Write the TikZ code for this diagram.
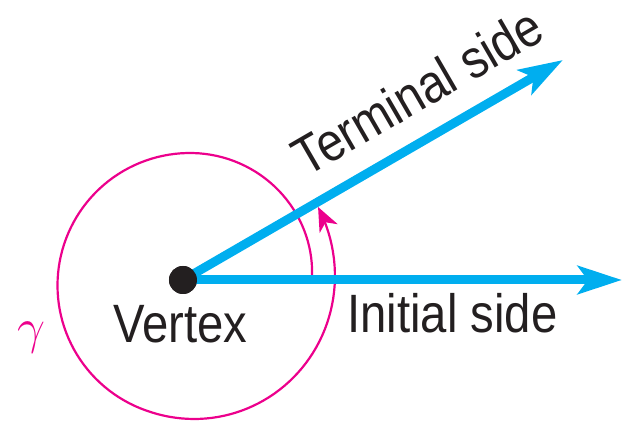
\documentclass[tikz,border=0pt]{standalone}
\usepackage{fontspec}
\setmainfont[FakeStretch=0.875]{Liberation Sans}
\usetikzlibrary{arrows.meta}
\definecolor{agInk}{HTML}{231F20}
\definecolor{agCyan}{HTML}{00AEEF}
\definecolor{agMagenta}{HTML}{EC008C}
\tikzset{
  side/.style={-{Stealth[length=22pt, width=14pt, inset=5pt]}, line width=4.5pt, draw=agCyan},
  turn/.style={-{Stealth[length=12pt, width=10pt, inset=3.5pt]}, line width=1.1pt, draw=agMagenta},
  vert/.style={circle, fill=agInk, inner sep=0pt, minimum size=14pt},
  lbl/.style={font=\fontsize{27}{32}\selectfont, text=agInk, inner sep=0pt},
}
\begin{document}
\begin{tikzpicture}[x=0.5pt, y=0.5pt]
  \useasboundingbox (-183,-141) rectangle (440,280);
  \coordinate (init) at (439,0);
  \coordinate (term) at (30.07:439);
  \draw[turn] plot[domain=2.6:391.5, samples=150, variable=\t]
    ([shift={(7,-5.5)}]\t:{132.5 - 10.5*max(0,(90-\t)/87.4)^2
      + 17.7*max(0,(\t-250)/141.5)*sqrt(max(0,(\t-250)/141.5))});
  \node[vert] (vtx) at (0,0) {};
  \draw[side] (vtx.center) -- (init);
  \draw[side] (vtx.center) -- (term);
  \node[vert] at (vtx) {};
  \node[lbl, anchor=base] (vlab) at (-2.5,-63) {Vertex};
  \node[lbl, anchor=base] (ilab) at (269.5,-53) {Initial side};
  \node[lbl, anchor=base, rotate=30.07] (tlab) at (244,172) {Terminal side};
  \node[lbl, text=agMagenta] (glab) at (-152,-58) {$\gamma$};
\end{tikzpicture}
\end{document}
